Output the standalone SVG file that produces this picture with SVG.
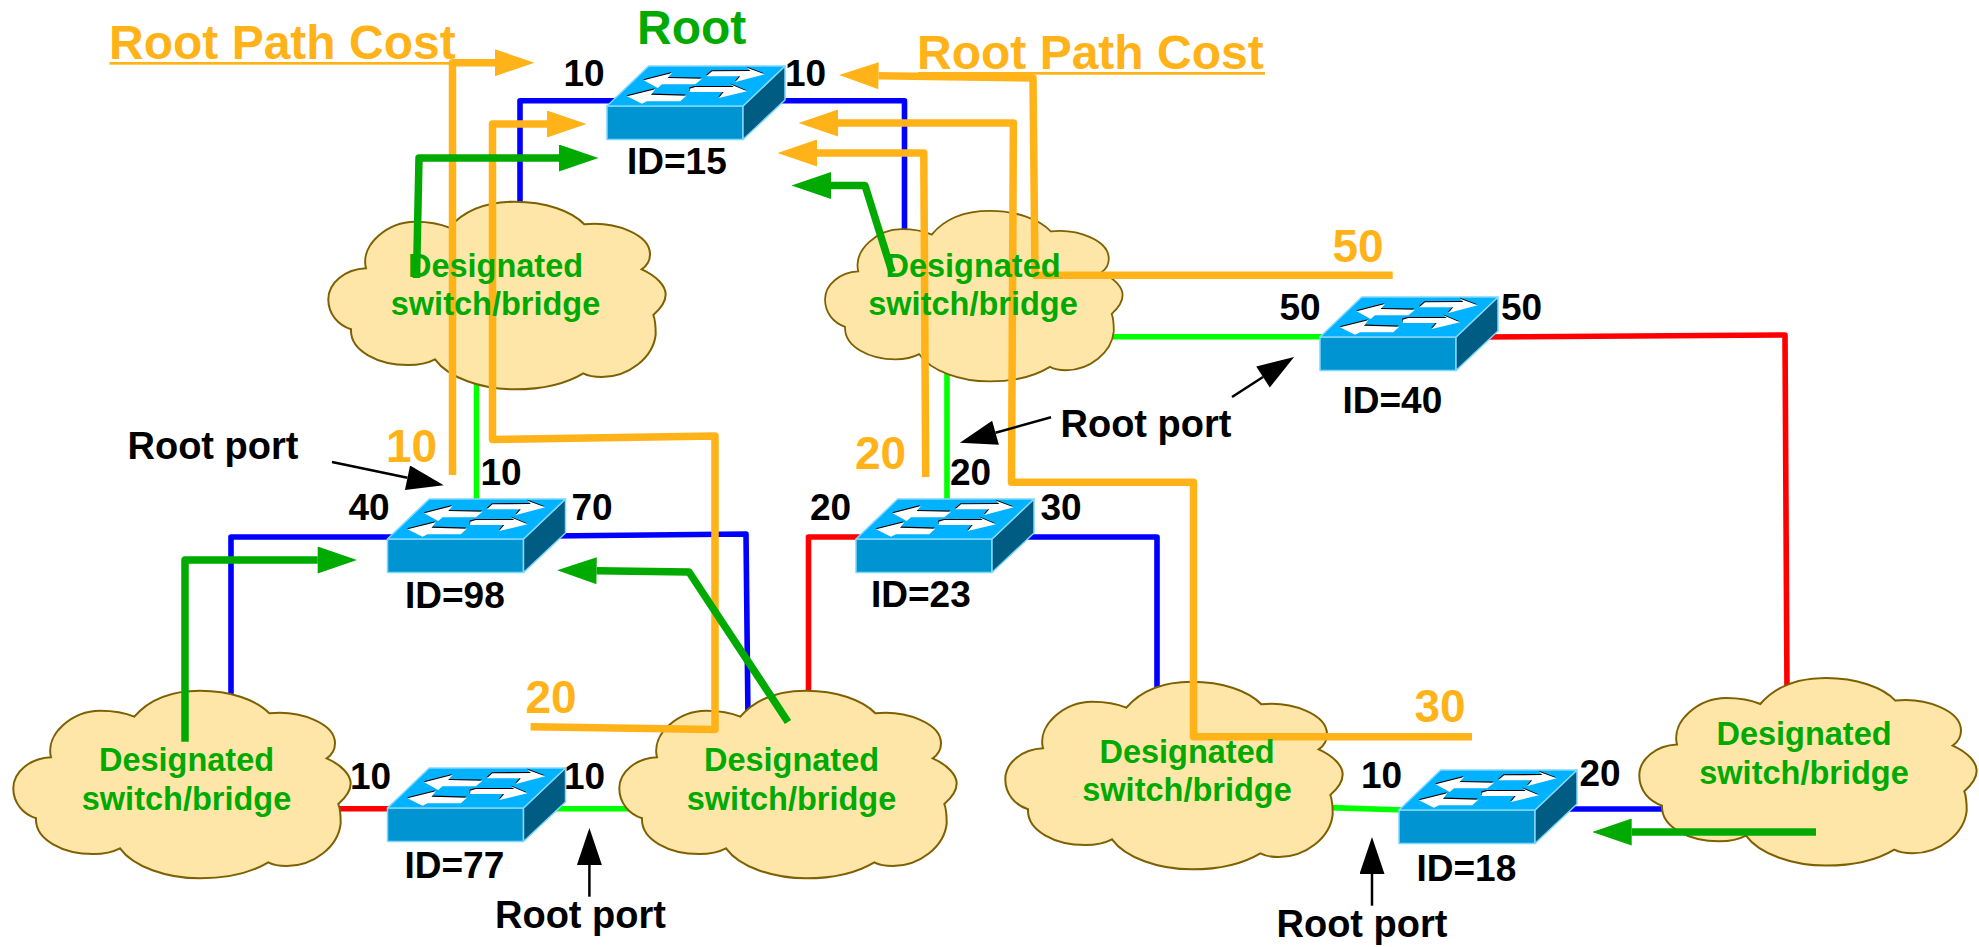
<svg xmlns="http://www.w3.org/2000/svg" xmlns:xlink="http://www.w3.org/1999/xlink" width="1979" height="947" viewBox="0 0 1979 947">
<style>
text{font-family:"Liberation Sans",Arial,sans-serif;font-weight:bold}
.port{font-size:37px;fill:#000}
.rp{font-size:38px;fill:#000}
.cost{font-size:46px;fill:#FFB319}
.title{font-size:48px;fill:#FFB319}
.cl{font-size:32.5px;fill:#00AA00;text-anchor:middle}
.thin{fill:none;stroke-width:5.6;stroke-linejoin:round}
.b{stroke:#0000FF}.r{stroke:#FF0000}.g{stroke:#00FF00}
.og{fill:none;stroke:#FFB319;stroke-width:7.5;stroke-linejoin:round;marker-end:url(#hO)}
.gr{fill:none;stroke:#00AA00;stroke-width:7.5;stroke-linejoin:round;marker-end:url(#hG)}
.bk{fill:none;stroke:#000;stroke-width:2.5;marker-end:url(#hK)}
.cloud{fill:#FEE6A8;stroke:#7F6000;stroke-width:2}
.top{fill:#00B2FF;stroke:#7FD8FF;stroke-width:1.5;stroke-linejoin:round}
.front{fill:#0094D2;stroke:#7FD8FF;stroke-width:1.5;stroke-linejoin:round}
.side{fill:#005C82;stroke:#7FD8FF;stroke-width:1.5;stroke-linejoin:round}
.aw{fill:#fff}.as{fill:#000}
</style>
<defs>
<marker id="hO" markerUnits="userSpaceOnUse" markerWidth="42" markerHeight="27" viewBox="0 0 41.5 27" refX="2" refY="13.5" orient="auto"><path d="M2,0L41.5,13.5L2,27Z" fill="#FFB319"/></marker>
<marker id="hG" markerUnits="userSpaceOnUse" markerWidth="42" markerHeight="27" viewBox="0 0 41.5 27" refX="2" refY="13.5" orient="auto"><path d="M2,0L41.5,13.5L2,27Z" fill="#00AA00"/></marker>
<marker id="hK" markerUnits="userSpaceOnUse" markerWidth="39" markerHeight="25" viewBox="0 0 39 25" refX="2" refY="12.5" orient="auto"><path d="M2,0L39,12.5L2,25Z" fill="#000"/></marker>
<path id="cloudShape" class="cloud" d="M134.3,56.7C150,38.3 173.3,30.7 200,30.7C230,30.7 256.7,40 269.3,53.3C300,50 335,63.3 335,83.3C335,90 331.7,95 326.7,98.3C341.7,105 350.7,115 350.7,123.3C350.7,131.7 345,138.3 338.3,144C340.7,150 340.7,156.7 340.7,163.3C338.3,186.7 313.3,206 286.7,206C280,206 273.3,205 268.3,202.3C250,213.3 226.7,218.3 200,218.3C166.7,218.3 133.3,206.7 120,188.3C111.7,192.7 103.3,194 93.3,194C63.3,194 35,180 36,158.3C23.3,154 13.3,143.3 13.3,128.3C13.3,111.7 30,98.3 51,97.3C45,73.3 73.3,50.7 100,50.7C113.3,50.7 125,52.7 134.3,56.7Z"/>
<g id="switchShape">
<path class="front" d="M0,0H136V33.5H0Z"/>
<path class="side" d="M136,0L178,-40V-6L136,33.5Z"/>
<path class="top" d="M0,0L41.7,-40H178L136,0Z"/>
<g class="as" transform="translate(-0.5,-1.1)">
<path d="M36.7,-25.7L65,-33L60.7,-28L95,-27.3L88.3,-21.7L55,-21.7L50.7,-18Z"/>
<path d="M99.3,-29.7L105,-34.7L143.3,-35L140,-38.3L157.7,-31.7L128.3,-24L133.3,-29.7Z"/>
<path d="M20,-9.7L48.3,-16.7L44,-11.3L79.3,-10.3L73.3,-4.7L40,-4.7L35,-2.3Z"/>
<path d="M82.7,-17.3L88.3,-19L126.7,-19L123.3,-21.7L140,-14.7L111.7,-8L116.7,-14L82.7,-14Z"/>
</g>
<g class="aw">
<path d="M36.7,-25.7L65,-33L60.7,-28L95,-27.3L88.3,-21.7L55,-21.7L50.7,-18Z"/>
<path d="M99.3,-29.7L105,-34.7L143.3,-35L140,-38.3L157.7,-31.7L128.3,-24L133.3,-29.7Z"/>
<path d="M20,-9.7L48.3,-16.7L44,-11.3L79.3,-10.3L73.3,-4.7L40,-4.7L35,-2.3Z"/>
<path d="M82.7,-17.3L88.3,-19L126.7,-19L123.3,-21.7L140,-14.7L111.7,-8L116.7,-14L82.7,-14Z"/>
</g>
</g>
</defs>

<g id="connectors">
<path class="thin b" d="M620,100.7H520V215"/>
<path class="thin b" d="M770,100.7H904.5V240"/>
<path class="thin g" d="M476.5,380V505"/>
<path class="thin g" d="M947,370V505"/>
<path class="thin g" d="M1100,336.7H1330"/>
<path class="thin r" d="M1480,337L1785,335L1787,690"/>
<path class="thin b" d="M395,537H231V705"/>
<path class="thin b" d="M550,536L746,534L748,720"/>
<path class="thin r" d="M865,537H808.5V705"/>
<path class="thin b" d="M985,537H1157V700"/>
<path class="thin r" d="M330,808.7H395"/>
<path class="thin g" d="M550,808.7H640"/>
<path class="thin g" d="M1330,807.6L1405,810"/>
<path class="thin b" d="M1565,809H1680"/>
</g>

<g id="cloud-1"><use xlink:href="#cloudShape" href="#cloudShape" transform="translate(315,171)"/></g>
<g id="cloud-2"><use xlink:href="#cloudShape" href="#cloudShape" transform="translate(813.3,183) scale(0.882,0.909)"/></g>
<g id="cloud-3"><use xlink:href="#cloudShape" href="#cloudShape" transform="translate(0,660)"/></g>
<g id="cloud-4"><use xlink:href="#cloudShape" href="#cloudShape" transform="translate(606,660)"/></g>
<g id="cloud-5"><use xlink:href="#cloudShape" href="#cloudShape" transform="translate(992,651)"/></g>
<g id="cloud-6"><use xlink:href="#cloudShape" href="#cloudShape" transform="translate(1626,647.3)"/></g>

<g id="switch-15"><use xlink:href="#switchShape" href="#switchShape" x="607" y="106"/><text class="port" x="563.5" y="86">10</text><text class="port" x="785" y="86">10</text><text class="port" x="627" y="174">ID=15</text></g>
<g id="switch-98"><use xlink:href="#switchShape" href="#switchShape" x="387.5" y="539"/><text class="port" x="480.5" y="485">10</text><text class="port" x="348.5" y="520">40</text><text class="port" x="571.5" y="520">70</text><text class="port" x="405" y="608.3">ID=98</text></g>
<g id="switch-23"><use xlink:href="#switchShape" href="#switchShape" x="856" y="539"/><text class="port" x="950" y="485">20</text><text class="port" x="810" y="520">20</text><text class="port" x="1040.5" y="520">30</text><text class="port" x="871" y="606.7">ID=23</text></g>
<g id="switch-40"><use xlink:href="#switchShape" href="#switchShape" x="1320" y="337"/><text class="port" x="1279.5" y="320">50</text><text class="port" x="1501" y="320">50</text><text class="port" x="1342.5" y="413.3">ID=40</text></g>
<g id="switch-77"><use xlink:href="#switchShape" href="#switchShape" x="387.5" y="808"/><text class="port" x="350" y="789">10</text><text class="port" x="564" y="789">10</text><text class="port" x="404.5" y="877.7">ID=77</text></g>
<g id="switch-18"><use xlink:href="#switchShape" href="#switchShape" x="1399" y="810"/><text class="port" x="1361" y="788.3">10</text><text class="port" x="1579.5" y="786">20</text><text class="port" x="1416.5" y="881">ID=18</text></g>

<g id="root-path-cost">
<path class="og" d="M452.5,475V62.7H495"/>
<path class="og" d="M530.6,726.7L715,729.5L715,436L492.5,439.5V124H547"/>
<path class="og" d="M1392.7,275.3H1035L1033,78L878.5,75.7"/>
<path class="og" d="M1472,736.7H1193.5V482.3H1011.5L1013.4,123H838"/>
<path class="og" d="M925.7,477L923.8,153H817"/>
</g>
<g id="designated-paths">
<path class="gr" d="M416.5,278L419,158H559"/>
<path class="gr" d="M892,272L865,185.5H831"/>
<path class="gr" d="M185,741.7V560H317.7"/>
<path class="gr" d="M788,722L689,572L596.6,570.7"/>
<path class="gr" d="M1816,832H1631.7"/>
</g>
<g id="root-port-arrows">
<path class="bk" d="M332,462L407.5,477.7"/>
<path class="bk" d="M1051,417.3L995.5,432.8"/>
<path class="bk" d="M1232,397L1263,377"/>
<path class="bk" d="M589.4,896.7V865"/>
<path class="bk" d="M1372,905.7V874"/>
</g>

<g id="cloud-labels">
<text class="cl"><tspan x="495.5" y="276.7">Designated</tspan><tspan x="495.5" y="315">switch/bridge</tspan></text>
<text class="cl"><tspan x="973" y="276.7">Designated</tspan><tspan x="973" y="315">switch/bridge</tspan></text>
<text class="cl"><tspan x="186.5" y="771">Designated</tspan><tspan x="186.5" y="810">switch/bridge</tspan></text>
<text class="cl"><tspan x="791.5" y="771">Designated</tspan><tspan x="791.5" y="810">switch/bridge</tspan></text>
<text class="cl"><tspan x="1187" y="762.7">Designated</tspan><tspan x="1187" y="800.7">switch/bridge</tspan></text>
<text class="cl"><tspan x="1804" y="745">Designated</tspan><tspan x="1804" y="784">switch/bridge</tspan></text>
</g>

<g id="labels">
<text x="637" y="44" style="font-size:48px;fill:#00AA00">Root</text>
<text class="title" x="109" y="59">Root Path Cost</text>
<rect x="109.5" y="62" width="346" height="2.7" fill="#FFB319"/>
<text class="title" x="917" y="68.5">Root Path Cost</text>
<rect x="918" y="72" width="347" height="2.7" fill="#FFB319"/>
<text class="cost" x="386" y="461.7">10</text>
<text class="cost" x="855" y="469.3">20</text>
<text class="cost" x="1332.5" y="261.7">50</text>
<text class="cost" x="525.5" y="712.7">20</text>
<text class="cost" x="1414.5" y="721.7">30</text>
<text class="rp" x="127.5" y="459">Root port</text>
<text class="rp" x="1060.5" y="436.7">Root port</text>
<text class="rp" x="495" y="928.3">Root port</text>
<text class="rp" x="1276.5" y="937.3">Root port</text>
</g>
</svg>
